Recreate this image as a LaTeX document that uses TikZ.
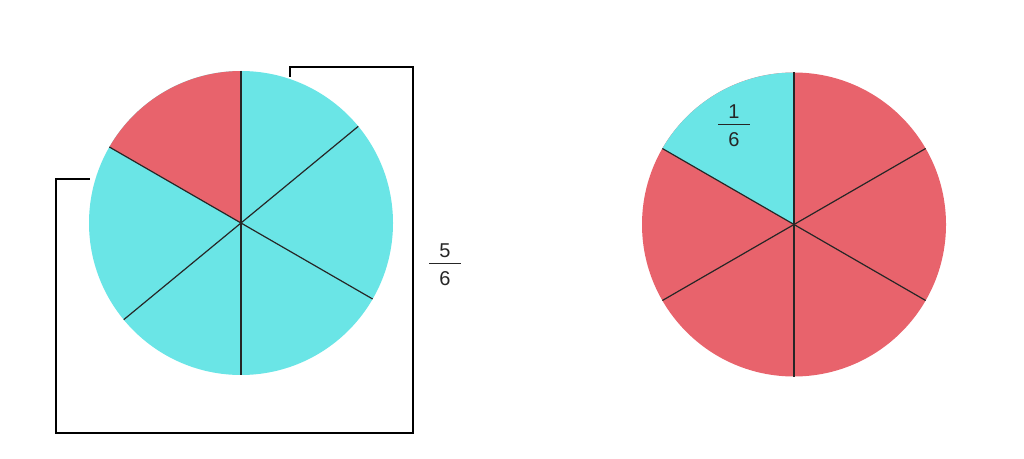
\documentclass[tikz,border=0pt]{standalone}
\usepackage{fontspec}
\setmainfont{Liberation Sans}
\usepackage{amsmath}
\usepackage{xcolor}
\usepackage{tikz}
\usetikzlibrary{calc}
\definecolor{slicecyan}{HTML}{6AE5E6}
\definecolor{slicered}{HTML}{E8636C}
\newcommand{\piefrac}[2]{$\dfrac{\makebox[32pt]{\raisebox{-3pt}{#1}}}{\makebox[32pt]{\raisebox{-2.2pt}{#2}}}$}

\begin{document}
\begin{tikzpicture}[x=1pt,y=1pt,
  slice/.style={draw=black!85,line width=1.2pt},
  bracketline/.style={draw=black,line width=2.2pt},
  fraclabel/.style={anchor=base,inner sep=0pt,text=black!85,font=\fontsize{20}{24}\selectfont}]
  \useasboundingbox (0,0) rectangle (1024,458);
  \coordinate (lc) at (241,235);
  \coordinate (rc) at (794,233.5);
  % left pie, five parts of six
  \fill[slicecyan] (lc) circle (152);
  \fill[slicered] (lc) -- ($(lc)+(90:152)$) arc (90:150:152) -- cycle;
  \foreach \a in {90,150,39.5} { \draw[slice] ($(lc)+(\a:152)$) -- ($(lc)+(\a+180:152)$); }
  % right pie, one part of six
  \fill[slicered] (rc) circle (152);
  \fill[slicecyan] (rc) -- ($(rc)+(90:152)$) arc (90:150:152) -- cycle;
  \foreach \a in {90,150,30} { \draw[slice] ($(rc)+(\a:152)$) -- ($(rc)+(\a+180:152)$); }
  % bracket round the five parts
  \coordinate (brtop) at (290,381);
  \coordinate (brend) at (90,279);
  \draw[bracketline] (brtop) |- (413,391) |- (56,25) |- (brend);
  \node[fraclabel] (fivesixths) at (445,189) {\piefrac{5}{6}};
  \node[fraclabel] (onesixth) at (734,328) {\piefrac{1}{6}};
\end{tikzpicture}
\end{document}
